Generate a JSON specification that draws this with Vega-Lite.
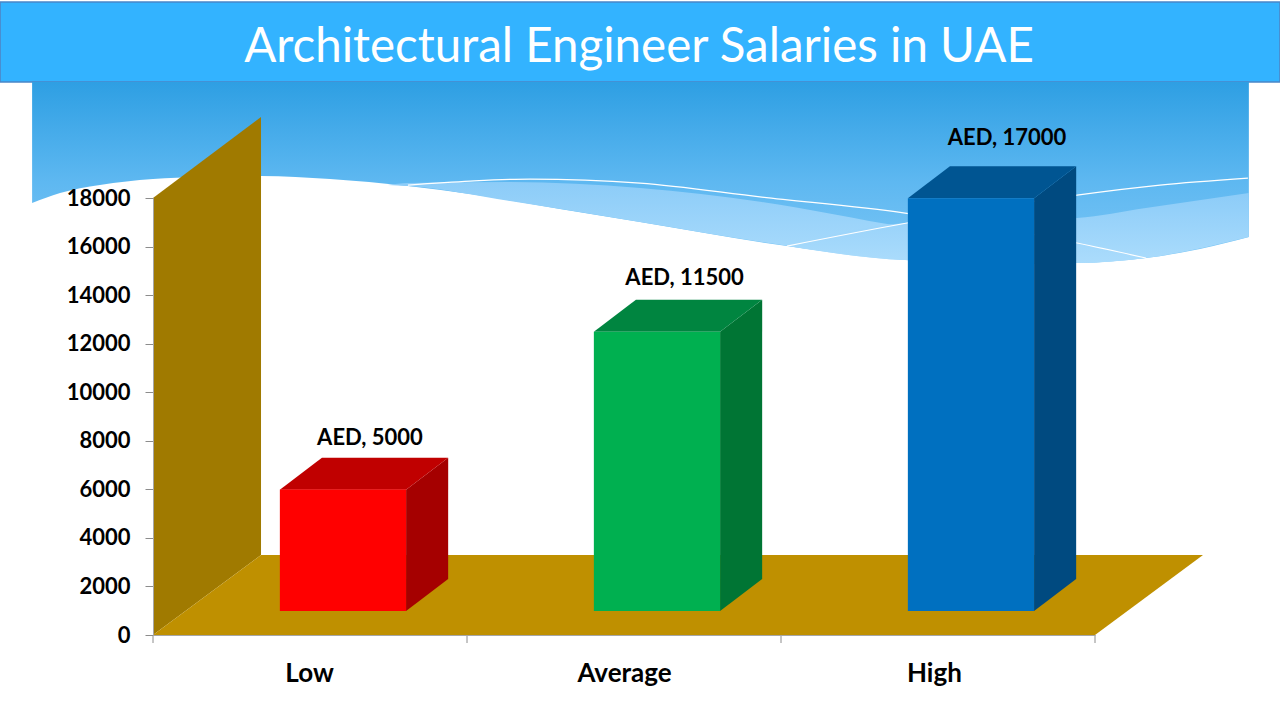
{
  "$schema": "https://vega.github.io/schema/vega-lite/v5.json",
  "width": 942,
  "height": 437,
  "autosize": "none",
  "padding": {"left": 153, "top": 198, "right": 185, "bottom": 85},
  "background": "white",
  "view": {"stroke": null},
  "title": {
    "text": "Architectural Engineer Salaries in UAE",
    "anchor": "middle",
    "frame": "group",
    "dx": 15,
    "offset": -70,
    "font": "Lato",
    "fontSize": 47.5,
    "fontWeight": "normal",
    "color": "white"
  },
  "datasets": {
    "sky": [
      {"x": -0.385, "y": 22778, "y2": 17792},
      {"x": -0.296, "y": 22778, "y2": 18204},
      {"x": -0.169, "y": 22778, "y2": 18534},
      {"x": 0, "y": 22778, "y2": 18781},
      {"x": 0.15, "y": 22778, "y2": 18863},
      {"x": 0.344, "y": 22778, "y2": 18904},
      {"x": 0.564, "y": 22778, "y2": 18781},
      {"x": 0.812, "y": 22778, "y2": 18493},
      {"x": 1.01, "y": 22778, "y2": 18163},
      {"x": 1.296, "y": 22778, "y2": 17545},
      {"x": 1.551, "y": 22778, "y2": 17010},
      {"x": 2.019, "y": 22778, "y2": 16021},
      {"x": 2.395, "y": 22778, "y2": 15445},
      {"x": 2.697, "y": 22778, "y2": 15280},
      {"x": 2.943, "y": 22778, "y2": 15321},
      {"x": 3.162, "y": 22778, "y2": 15527},
      {"x": 3.334, "y": 22778, "y2": 15898},
      {"x": 3.49, "y": 22778, "y2": 16392}
    ],
    "swooshes": [
      {"part": "a", "x": 0.748, "y": 18534, "y2": 18534},
      {"part": "a", "x": 0.812, "y": 18616, "y2": 18493},
      {"part": "a", "x": 1.137, "y": 18657, "y2": 17875},
      {"part": "a", "x": 1.551, "y": 18410, "y2": 17010},
      {"part": "a", "x": 1.939, "y": 17834, "y2": 16186},
      {"part": "a", "x": 2.395, "y": 16804, "y2": 15445},
      {"part": "a", "x": 2.943, "y": 15857, "y2": 15321},
      {"part": "a", "x": 3.162, "y": 15527, "y2": 15527},
      {"part": "b", "x": 2.019, "y": 16021, "y2": 16021},
      {"part": "b", "x": 2.401, "y": 16969, "y2": 15445},
      {"part": "b", "x": 2.943, "y": 17175, "y2": 15321},
      {"part": "b", "x": 3.162, "y": 17586, "y2": 15527},
      {"part": "b", "x": 3.49, "y": 18204, "y2": 16392}
    ],
    "streaks": [
      {"part": "one", "x": 0.812, "y": 18534},
      {"part": "one", "x": 1.01, "y": 18698},
      {"part": "one", "x": 1.201, "y": 18781},
      {"part": "one", "x": 1.551, "y": 18616},
      {"part": "one", "x": 1.939, "y": 18039},
      {"part": "one", "x": 2.395, "y": 17380},
      {"part": "one", "x": 2.943, "y": 16145},
      {"part": "one", "x": 3.162, "y": 15527},
      {"part": "two", "x": 2.019, "y": 16021},
      {"part": "two", "x": 2.401, "y": 16969},
      {"part": "two", "x": 2.943, "y": 18122},
      {"part": "two", "x": 3.207, "y": 18534},
      {"part": "two", "x": 3.487, "y": 18822}
    ],
    "faces": [
      {"face": "Low side", "x": 0.806, "y": 988, "y2": 5988},
      {"face": "Low side", "x": 0.94, "y": 2306, "y2": 7306},
      {"face": "Average side", "x": 1.806, "y": 988, "y2": 12488},
      {"face": "Average side", "x": 1.94, "y": 2306, "y2": 13806},
      {"face": "High side", "x": 2.806, "y": 988, "y2": 17988},
      {"face": "High side", "x": 2.94, "y": 2306, "y2": 19306}
    ],
    "tops": [
      {"face": "Low top", "x": 0.404, "x2": 0.806, "y": 5988},
      {"face": "Low top", "x": 0.538, "x2": 0.94, "y": 7306},
      {"face": "Average top", "x": 1.404, "x2": 1.806, "y": 12488},
      {"face": "Average top", "x": 1.538, "x2": 1.94, "y": 13806},
      {"face": "High top", "x": 2.404, "x2": 2.806, "y": 17988},
      {"face": "High top", "x": 2.538, "x2": 2.94, "y": 19306}
    ],
    "fronts": [
      {"face": "Low front", "x": 0.404, "x2": 0.806, "y": 988, "y2": 5988},
      {"face": "Average front", "x": 1.404, "x2": 1.806, "y": 988, "y2": 12488},
      {"face": "High front", "x": 2.404, "x2": 2.806, "y": 988, "y2": 17988}
    ],
    "labels": [
      {"label": "AED, 5000", "x": 0.691, "y": 7826},
      {"label": "AED, 11500", "x": 1.693, "y": 14415},
      {"label": "AED, 17000", "x": 2.72, "y": 20181}
    ]
  },
  "encoding": {
    "x": {
      "field": "x",
      "type": "quantitative",
      "title": null,
      "scale": {"domain": [0, 3], "nice": false, "zero": false},
      "axis": {
        "values": [0.497, 1.5, 2.487],
        "labelExpr": "datum.value < 1 ? 'Low' : datum.value < 2 ? 'Average' : 'High'",
        "grid": false,
        "ticks": false,
        "domainColor": "#A6A6A6",
        "labelFont": "Lato",
        "labelFontSize": 26,
        "labelFontWeight": "bold",
        "labelColor": "black",
        "labelPadding": 25,
        "labelFlush": false,
        "labelOverlap": false,
        "zindex": 1
      }
    },
    "y": {
      "field": "y",
      "type": "quantitative",
      "title": null,
      "scale": {"domain": [0, 18000], "nice": false},
      "axis": {
        "values": [0, 2000, 4000, 6000, 8000, 10000, 12000, 14000, 16000, 18000],
        "format": "d",
        "grid": false,
        "tickSize": 8,
        "tickColor": "#8C8C8C",
        "domainColor": "#A6A6A6",
        "labelFont": "Lato",
        "labelFontSize": 22,
        "labelFontWeight": "bold",
        "labelColor": "black",
        "labelPadding": 15,
        "labelOverlap": false,
        "zindex": 1
      }
    }
  },
  "layer": [
    {
      "data": {"values": [{"x": -0.487, "x2": 3.589, "y": 26074, "y2": 22778}]},
      "mark": {"type": "rect", "fill": "#33B3FF", "stroke": "#4A86C8", "strokeWidth": 1.5},
      "encoding": {"x2": {"field": "x2"}, "y2": {"field": "y2"}}
    },
    {
      "data": {"name": "sky"},
      "mark": {
        "type": "area",
        "interpolate": "monotone",
        "color": {
          "x1": 0, "y1": 0, "x2": 0, "y2": 1,
          "gradient": "linear",
          "stops": [
            {"offset": 0, "color": "#2E9FE3"},
            {"offset": 0.55, "color": "#5EB8F1"},
            {"offset": 1, "color": "#7CC6F5"}
          ]
        }
      },
      "encoding": {"y2": {"field": "y2"}}
    },
    {
      "data": {"name": "swooshes"},
      "mark": {
        "type": "area",
        "interpolate": "monotone",
        "color": {
          "x1": 0, "y1": 0, "x2": 0, "y2": 1,
          "gradient": "linear",
          "stops": [
            {"offset": 0, "color": "#8CCCF8"},
            {"offset": 1, "color": "#ABDCFC"}
          ]
        }
      },
      "encoding": {"y2": {"field": "y2"}, "detail": {"field": "part"}}
    },
    {
      "data": {"name": "streaks"},
      "mark": {"type": "line", "interpolate": "monotone", "color": "white", "strokeWidth": 1.2},
      "encoding": {"detail": {"field": "part"}}
    },
    {
      "data": {"values": [{"x": 0, "y": 0, "y2": 17998}, {"x": 0.344, "y": 3295, "y2": 21334}]},
      "mark": {"type": "area", "color": "#A07A00"},
      "encoding": {"y2": {"field": "y2"}}
    },
    {
      "data": {"values": [{"x": 0, "x2": 3, "y": 0}, {"x": 0.344, "x2": 3.344, "y": 3295}]},
      "mark": {"type": "area", "orient": "horizontal", "color": "#BF9000"},
      "encoding": {"x2": {"field": "x2"}}
    },
    {
      "data": {"values": [{"x": 0, "y": 0, "y2": -330}, {"x": 1, "y": 0, "y2": -330}, {"x": 2, "y": 0, "y2": -330}, {"x": 3, "y": 0, "y2": -330}]},
      "mark": {"type": "rule", "color": "#8C8C8C", "strokeWidth": 1},
      "encoding": {"y2": {"field": "y2"}}
    },
    {
      "data": {"name": "faces"},
      "mark": {"type": "area"},
      "encoding": {
        "y2": {"field": "y2"},
        "color": {"field": "face", "type": "nominal", "legend": null, "scale": {
          "domain": ["Low front", "Low side", "Low top", "Average front", "Average side", "Average top", "High front", "High side", "High top"],
          "range": ["#FF0000", "#A50000", "#C00000", "#00B050", "#007534", "#008540", "#0070C0", "#004A80", "#005592"]
        }}
      }
    },
    {
      "data": {"name": "tops"},
      "mark": {"type": "area", "orient": "horizontal"},
      "encoding": {
        "x2": {"field": "x2"},
        "color": {"field": "face", "type": "nominal", "legend": null}
      }
    },
    {
      "data": {"name": "fronts"},
      "mark": {"type": "rect"},
      "encoding": {
        "x2": {"field": "x2"},
        "y2": {"field": "y2"},
        "color": {"field": "face", "type": "nominal", "legend": null}
      }
    },
    {
      "data": {"name": "labels"},
      "mark": {"type": "text", "font": "Lato", "fontSize": 22, "fontWeight": "bold", "align": "center", "baseline": "alphabetic", "color": "black"},
      "encoding": {"text": {"field": "label", "type": "nominal"}}
    }
  ]
}
